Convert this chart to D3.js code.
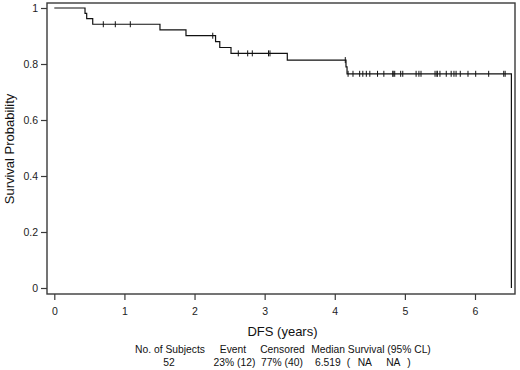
<!DOCTYPE html>
<html>
<head>
<meta charset="utf-8">
<script src="https://cdn.jsdelivr.net/npm/d3@7"></script>
<style>
  html, body { margin: 0; padding: 0; background: #fff; }
  svg { display: block; font-family: "Liberation Sans", Arial, sans-serif; }
</style>
</head>
<body>
<svg id="chart" width="520" height="370"></svg>
<script>
// ---- data ----
const stepTimes = [0, 0.438, 0.462, 0.548, 1.507, 1.878, 2.30, 2.36, 2.52, 3.323, 4.16, 4.175, 6.519];
const stepSurv  = [1, 0.981, 0.962, 0.942, 0.922, 0.901, 0.880, 0.859, 0.838, 0.814, 0.790, 0.765, 0];
const censorTimes = [0.699, 0.87, 1.084, 2.26, 2.624, 2.758, 2.824, 3.055, 3.076, 4.15,
  4.19, 4.26, 4.355, 4.40, 4.45, 4.50, 4.61, 4.70, 4.83, 4.83, 4.855, 4.94, 4.97,
  5.16, 5.20, 5.23, 5.43, 5.46, 5.46, 5.50, 5.59, 5.66, 5.70, 5.73, 5.79, 5.90,
  6.01, 6.195, 6.41, 6.43];
const xTicks = [0, 1, 2, 3, 4, 5, 6];
const yTicks = [0, 0.2, 0.4, 0.6, 0.8, 1];
const yTickLabels = ["0", "0.2", "0.4", "0.6", "0.8", "1"];
const xTitle = "DFS (years)";
const yTitle = "Survival Probability";
const tableHeaders = ["No. of Subjects", "Event", "Censored", "Median Survival (95% CL)"];
const tableValues = ["52", "23% (12)", "77% (40)", "6.519", "(", "NA", "NA", ")"];

// ---- layout ----
const svg = d3.select("#chart");
const frame = { left: 47, right: 515, top: 3, bottom: 294 };
const x = d3.scaleLinear().domain([0, 6]).range([54.3, 475]);
const y = d3.scaleLinear().domain([0, 1]).range([288, 8]);

// frame box
svg.append("rect")
  .attr("x", frame.left).attr("y", frame.top)
  .attr("width", frame.right - frame.left).attr("height", frame.bottom - frame.top)
  .attr("fill", "none").attr("stroke", "#3a3a3a").attr("stroke-width", 1.4);

// y axis
const yAxis = d3.axisLeft(y).tickValues(yTicks)
  .tickFormat((d, i) => yTickLabels[i]).tickSize(6).tickPadding(3);
const gy = svg.append("g").attr("transform", `translate(${frame.left},0)`).call(yAxis);
gy.select(".domain").remove();
gy.selectAll(".tick line").attr("stroke", "#3a3a3a").attr("stroke-width", 1.2);
gy.selectAll(".tick text").attr("font-size", 10.5).attr("fill", "#222")
  .attr("font-family", "Liberation Sans, Arial, sans-serif");

// x axis
const xAxis = d3.axisBottom(x).tickValues(xTicks).tickFormat(d3.format("d"))
  .tickSize(6).tickPadding(8);
const gx = svg.append("g").attr("transform", `translate(0,${frame.bottom})`).call(xAxis);
gx.select(".domain").remove();
gx.selectAll(".tick line").attr("stroke", "#3a3a3a").attr("stroke-width", 1.2);
gx.selectAll(".tick text").attr("font-size", 10.5).attr("fill", "#222")
  .attr("font-family", "Liberation Sans, Arial, sans-serif");

// titles
svg.append("text").attr("x", 282.5).attr("y", 335.5).attr("text-anchor", "middle")
  .attr("font-size", 13).attr("fill", "#111").text(xTitle);
svg.append("text").attr("transform", "translate(14,149) rotate(-90)")
  .attr("text-anchor", "middle").attr("font-size", 13).attr("fill", "#111").text(yTitle);

// KM step curve
const pts = stepTimes.map((t, i) => [t, stepSurv[i]]);
const line = d3.line().x(d => x(d[0])).y(d => y(d[1])).curve(d3.curveStepAfter);
svg.append("path").datum(pts)
  .attr("d", line).attr("fill", "none").attr("stroke", "#111").attr("stroke-width", 1.2);

// censor marks
function survAt(t) {
  let s = 1;
  for (let i = 0; i < stepTimes.length; i++) if (stepTimes[i] <= t) s = stepSurv[i];
  return s;
}
svg.append("g").selectAll("line").data(censorTimes).join("line")
  .attr("x1", d => x(d)).attr("x2", d => x(d))
  .attr("y1", d => y(survAt(d)) - 3).attr("y2", d => y(survAt(d)) + 3)
  .attr("stroke", "#111").attr("stroke-width", 1);

// summary table
const headerX = [170, 233, 282.5, 371];
svg.append("g").selectAll("text").data(tableHeaders).join("text")
  .attr("x", (d, i) => headerX[i]).attr("y", 353).attr("text-anchor", "middle")
  .attr("font-size", 10.3).attr("fill", "#111").text(d => d);
const valueX = [169, 234.5, 282, 327.8, 348.5, 364.8, 393.3, 409];
svg.append("g").selectAll("text").data(tableValues).join("text")
  .attr("x", (d, i) => valueX[i]).attr("y", 365.5).attr("text-anchor", "middle")
  .attr("font-size", 10.3).attr("fill", "#111").text(d => d);
</script>
</body>
</html>
